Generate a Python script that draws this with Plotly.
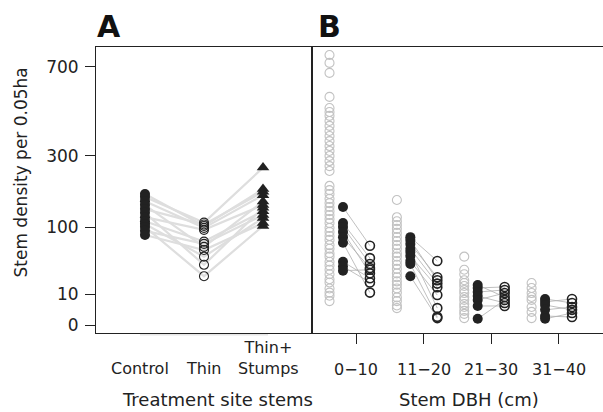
import numpy as np
import plotly.graph_objects as go

# ---------------- Data ----------------
# Panel A: treatment site stems (12 sites)
ctrl = [180, 172, 161, 151, 141, 132, 122, 113, 107, 101, 93, 85]
thin = [103, 110, 99, 64, 106, 38, 95, 73, 49, 25, 69, 59]
thin_stumps = [194, 260, 177, 160, 186, 144, 151, 136, 120, 103, 127, 109]
a_labels = ["Control", "Thin", "Thin+<br>Stumps"]

# Panel B: stem DBH classes
dbh_labels = ["0\u221210", "11\u221220", "21\u221230", "31\u221240"]
gray_vals = [
    [765, 721, 667, 546, 494, 476, 459, 437, 416, 395, 375, 355, 336, 318, 300, 282,
     265, 249, 203, 191, 180, 167, 156, 146, 136, 127, 118, 109, 99, 91, 83, 76, 67,
     61, 54, 49, 42, 37, 32, 27, 22, 19, 14, 11, 9, 6],
    [164, 122, 113, 105, 97, 89, 81, 74, 67, 61, 54, 49, 43, 38, 33, 28, 24, 20, 17,
     14, 11, 8, 6, 4, 3],
    [49, 32, 27, 21, 18.5, 16, 12.9, 10.7, 8.2, 6.6, 4.6, 3.4, 2.1, 1.3, 0.5],
    [18.5, 14.4, 10.7, 8.2, 6.6, 3.4, 1.8, 0.5],
]
before_vals = [
    [146, 109, 101, 91, 81, 71, 42, 36, 31],
    [81, 76, 69, 61, 56, 50, 43, 39, 25],
    [16.8, 14.4, 11.4, 8.8, 6.6, 3.8, 0.4],
    [7.1, 5.6, 4.2, 2.4, 0.85, 0.4],
]
after_vals = [
    [66, 47, 39, 28, 34, 11, 23, 19, 32],
    [43, 21, 24, 18, 3, 15, 9.4, 0.7, 0.5],
    [8.2, 15.2, 12.9, 5.1, 10.7, 3.8, 6.6],
    [5.1, 7.1, 2.4, 3.4, 0.67, 1.5],
]

y_ticks = [0, 10, 100, 300, 700]

# ---------------- Styling ----------------
FONT = "DejaVu Sans"
BLACK = "#222222"
GRAY = "#c2c2c2"
tr = np.sqrt

fig = go.Figure()

# Panel A lines
for c, t, s in zip(ctrl, thin, thin_stumps):
    fig.add_trace(go.Scatter(x=[1, 2, 3], y=tr([c, t, s]), mode="lines",
                             line=dict(color="#dedede", width=2.2),
                             xaxis="x", yaxis="y", showlegend=False, hoverinfo="skip"))
fig.add_trace(go.Scatter(x=[1] * len(ctrl), y=tr(ctrl), mode="markers",
                         marker=dict(symbol="circle", size=10, color=BLACK, line=dict(width=0)),
                         xaxis="x", yaxis="y", showlegend=False))
fig.add_trace(go.Scatter(x=[2] * len(thin), y=tr(thin), mode="markers",
                         marker=dict(symbol="circle-open", size=9, color=BLACK, line=dict(width=1.1)),
                         xaxis="x", yaxis="y", showlegend=False))
fig.add_trace(go.Scatter(x=[3] * len(thin_stumps), y=tr(thin_stumps), mode="markers",
                         marker=dict(symbol="triangle-up", size=11, color=BLACK, line=dict(width=0)),
                         xaxis="x", yaxis="y", showlegend=False))

# Panel B
off_g, off_b, off_a = -0.4, -0.2, 0.2
for i in range(4):
    g = i + 1
    fig.add_trace(go.Scatter(x=[g + off_g] * len(gray_vals[i]), y=tr(gray_vals[i]), mode="markers",
                             marker=dict(symbol="circle-open", size=9, color=GRAY, line=dict(width=1.1)),
                             xaxis="x2", yaxis="y2", showlegend=False))
    for b, a in zip(before_vals[i], after_vals[i]):
        fig.add_trace(go.Scatter(x=[g + off_b, g + off_a], y=tr([b, a]), mode="lines",
                                 line=dict(color="#b0b0b0", width=0.8),
                                 xaxis="x2", yaxis="y2", showlegend=False, hoverinfo="skip"))
    fig.add_trace(go.Scatter(x=[g + off_b] * len(before_vals[i]), y=tr(before_vals[i]), mode="markers",
                             marker=dict(symbol="circle", size=10, color=BLACK, line=dict(width=0)),
                             xaxis="x2", yaxis="y2", showlegend=False))
    fig.add_trace(go.Scatter(x=[g + off_a] * len(after_vals[i]), y=tr(after_vals[i]), mode="markers",
                             marker=dict(symbol="circle-open", size=9, color=BLACK, line=dict(width=1.6)),
                             xaxis="x2", yaxis="y2", showlegend=False))

yr = [-0.82, 28.48]
split = 216 / 507
fig.update_layout(
    width=603, height=412,
    margin=dict(l=96, r=0, t=47, b=79),
    paper_bgcolor="white", plot_bgcolor="white",
    font=dict(family=FONT, size=16, color="#222222"),
    xaxis=dict(domain=[0, split], range=[0.17, 3.83], showgrid=False, zeroline=False,
               showline=True, mirror=True, linecolor="#222222", linewidth=1,
               showticklabels=False, ticks=""),
    xaxis2=dict(domain=[split, 1], range=[0.34, 4.66], showgrid=False, zeroline=False,
                showline=True, mirror=True, linecolor="#222222", linewidth=1,
                tickvals=[1, 2, 3, 4], ticks="outside", ticklen=10, tickcolor="#222222",
                showticklabels=False),
    yaxis=dict(domain=[0, 1], range=yr, showgrid=False, zeroline=False,
               showline=True, mirror=True, linecolor="#222222", linewidth=1,
               tickvals=list(tr(y_ticks)), ticktext=[str(v) for v in y_ticks],
               ticks="outside", ticklen=10, tickcolor="#222222", ticklabelstandoff=3,
               tickfont=dict(size=17, family=FONT, color="#222222")),
    yaxis2=dict(domain=[0, 1], range=yr, anchor="x2", showgrid=False, zeroline=False,
                showline=True, mirror=True, linecolor="#222222", linewidth=1,
                showticklabels=False, ticks=""),
)

# light axis line under panel A
fig.add_shape(type="line", xref="x", yref="paper", x0=0.915, x1=3.085, y0=-0.006, y1=-0.006,
              line=dict(color="#e6e6e6", width=1.5))

ann = []
a_pos = [0.915, 2, 3.085]
for xp, lab in zip(a_pos, a_labels):
    ann.append(dict(x=xp, y=-0.165, xref="x", yref="paper", text=lab, showarrow=False,
                    xanchor="center", yanchor="bottom", font=dict(size=16, family=FONT)))
for i, lab in enumerate(dbh_labels):
    ann.append(dict(x=i + 1, y=-0.126, xref="x2", yref="paper", text=lab, showarrow=False,
                    xanchor="center", yanchor="middle", font=dict(size=16, family=FONT)))
ann.append(dict(x=0.2406, y=-0.231, xref="paper", yref="paper", text="Treatment site stems",
                showarrow=False, xanchor="center", yanchor="middle", font=dict(size=18, family=FONT)))
ann.append(dict(x=0.7357, y=-0.231, xref="paper", yref="paper", text="Stem DBH (cm)",
                showarrow=False, xanchor="center", yanchor="middle", font=dict(size=18, family=FONT)))
ann.append(dict(x=-0.148, y=0.561, xref="paper", yref="paper", text="Stem density per 0.05ha",
                showarrow=False, textangle=-90, xanchor="center", yanchor="middle",
                font=dict(size=17, family=FONT)))
ann.append(dict(x=0.0247, y=1.073, xref="paper", yref="paper", text="<b>A</b>",
                showarrow=False, xanchor="center", yanchor="middle", font=dict(size=30, family=FONT, color="#111111")))
ann.append(dict(x=0.4596, y=1.073, xref="paper", yref="paper", text="<b>B</b>",
                showarrow=False, xanchor="center", yanchor="middle", font=dict(size=30, family=FONT, color="#111111")))
fig.update_layout(annotations=ann)

fig.write_html("out.html")
